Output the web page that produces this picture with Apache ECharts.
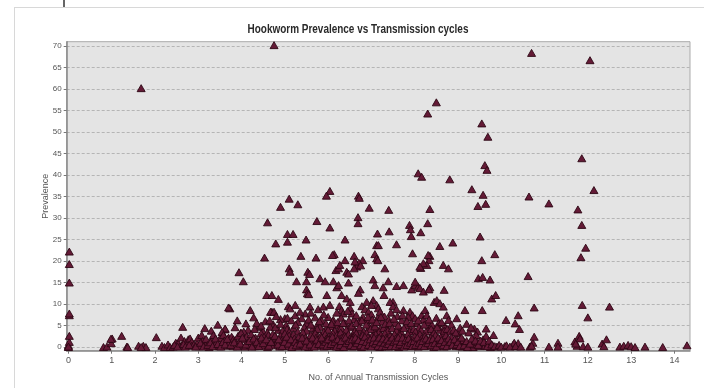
<!DOCTYPE html>
<html>
<head>
<meta charset="utf-8">
<script src="https://cdn.jsdelivr.net/npm/echarts@6/dist/echarts.min.js"></script>
<style>
html,body{margin:0;padding:0;background:#fff;}
#c{width:704px;height:388px;}
</style>
</head>
<body>
<div id="c"></div>
<script>
// Tick labels
const xTicks = [0,1,2,3,4,5,6,7,8,9,10,11,12,13,14];
const yTicks = [0,5,10,15,20,25,30,35,40,45,50,55,60,65,70];

// Data: [annual transmission cycles, prevalence]
const outliers = [
 [1.68,60.2],[4.75,70.2],[10.7,68.4],[12.05,66.7],[8.5,56.9],[8.3,54.3],[9.55,52],[9.69,48.9],
 [11.86,43.9],[9.62,42.3],[9.67,41.2],[8.08,40.4],[8.16,39.6],[8.81,39],[9.32,36.7],[9.58,35.4],
 [12.14,36.5],[10.64,35],[11.1,33.4],[9.46,32.8],[9.64,33.3],[11.77,32],[6.04,36.3],[5.96,35.2],
 [6.7,35.2],[6.72,34.7],[5.1,34.5],[4.9,32.6],[5.3,33.2],[6.95,32.4],[7.4,31.9],[8.35,32.1],[6.69,30.2]
];
const upperBand = [
 [4.6,29],[5.74,29.3],[6.04,27.8],[6.69,28.8],[8.3,28.8],[7.88,28.4],[7.9,27.4],[7.92,25.8],
 [7.14,26.4],[7.41,26.9],[8.14,26.7],[5.06,26.3],[5.19,26.3],[5.49,25],[6.39,25],[11.86,28.4],
 [9.51,25.7],[4.79,24.1],[5.06,24.5],[7.12,23.7],[7.16,23.7],[7.58,23.9],[8.58,23.5],[8.88,24.3],
 [11.95,23.1],[0.02,22.2],[4.53,20.8],[5.37,21.2],[5.72,20.8],[6.14,21.6],[6.39,20.2],[6.6,21.2],
 [6.8,20.2],[7.08,21.6],[7.12,20.6],[7.15,20.2],[7.95,21.8],[8.35,21.2],[8.33,20.2],[8.31,21.4],
 [11.84,20.9],[9.85,21.6],[9.55,20.2],[6.1,21.4]
];
const midBand = [
 [0.02,19.3],[0.02,15],[6.71,19.6],[6.66,18.7],[6.6,18.3],[7.31,18.3],[8.28,19.1],[8.14,18.4],
 [8.66,19.1],[8.78,18.3],[8.2,19.5],[8.12,18.7],[5.1,18.3],[5.12,17.5],[5.53,17.5],[5.57,17],
 [6.18,17.9],[6.24,18.3],[6.27,19.1],[6.43,17.5],[6.47,17.1],[3.94,17.4],[4.04,15.3],[5.27,15.3],
 [5.5,15.3],[5.81,16],[5.93,15.3],[6.12,15.3],[6.2,13.9],[6.24,14.4],[6.47,15],[6.74,13.4],
 [6.7,12.6],[7.04,15.7],[7.08,14.4],[7.27,13.9],[7.29,12.1],[7.39,15.3],[7.58,14.2],[7.74,14.4],
 [7.93,13.4],[8.01,14.4],[8.08,14],[8.01,15.2],[8.12,13.7],[8.2,12.9],[8.35,13.9],[8.33,13.4],
 [8.68,13.3],[5.5,13.4],[5.52,12.5],[5.55,12.3],[4.58,12.1],[4.7,12.1],[4.85,11.2],[5.97,12.1],
 [6.31,12.1],[6.43,11.3],[6.51,10.5],[9.47,16],[9.57,16.3],[9.74,15.7],[10.62,16.5],[9.78,11.3],
 [9.87,12.1],[6.62,19.9],[6.75,19.0],[6.89,10.5],[7.5,10.5],[8.45,10.5]
];
const lowBand = [
 [0.02,7.4],[0.02,7.8],[3.73,9],[3.7,9.2],[4.2,8.6],[4.28,6.9],[4.7,8.2],[4.67,8.2],[4.75,8.2],
 [5.08,9.5],[5.12,9],[5.24,9.8],[5.58,9.4],[5.47,7.8],[5.77,8.8],[5.89,9.4],[6.04,9.8],[6.26,9.5],
 [6.31,8.6],[6.35,7.8],[6.51,9],[6.55,7.8],[6.78,9.5],[6.85,8.8],[6.93,8.2],[7.04,10.9],[7.12,9.8],
 [7.16,9],[7.43,10.5],[7.5,9.5],[7.58,8.8],[7.74,8.6],[7.89,8.2],[7.95,7.4],[8.01,6.7],[8.16,7.4],
 [8.2,6.4],[8.51,10.9],[8.58,10.2],[8.66,9.4],[8.74,7.4],[8.78,6.3],[8.97,6.7],[9.16,8.6],
 [9.56,8.6],[10.76,9.2],[11.87,9.8],[12.5,9.4],[12.0,6.9],[10.39,7.4],[10.11,6.3],[10.32,5.5],
 [10.42,4.2],[9.38,4.3],[9.65,4.3],[5.03,5.1],[5.0,6.7],[4.73,5.3],[4.66,4.7],[4.4,4.7],[3.98,3.3],
 [5.39,6.7],[5.5,5.5],[5.77,5.5],[5.81,4.7],[6.12,6.3],[6.2,5.1],[8.35,4.7],[8.43,3.6],[8.58,4],
 [8.66,3.2],[9.0,3.2],[5.06,6.8],[5.24,7.4],[2.64,4.7],[3.62,4.1],[4.85,4],[3.62,4.3],[8.24,8.6],
 [8.28,7.4],[7.0,9.8],
 [6.0,7.0],[6.1,6.0],[6.2,8.0],[6.3,6.8],[6.4,5.5],[6.45,8.4],[6.6,6.5],[6.65,7.4],[6.7,5.8],
 [6.8,7.0],[6.9,6.2],[7.0,7.6],[7.05,5.4],[7.15,6.8],[7.2,8.2],[7.25,5.9],[7.3,7.1],[7.35,4.8],
 [7.4,6.4],[7.45,8.0],[7.55,5.6],[7.6,7.2],[7.65,4.5],[7.7,6.2],[7.8,5.0],[7.85,7.0],[7.9,4.2],
 [8.05,5.6],[8.1,4.6],[8.3,5.8],[8.4,5.2],[8.5,6.8],[8.55,5.5],[8.7,4.8],[8.85,5.2],[9.05,4.5],
 [9.2,5.4],[5.55,6.4],[5.6,8.0],[5.65,4.4],[5.7,6.9],[5.85,6.2],[5.9,7.6],[5.95,4.2],[5.3,5.8],
 [5.35,8.2],[5.2,4.4],[5.15,6.2],[4.9,6.5],[4.95,3.8],[4.8,7.2],[4.55,6.0],[4.5,3.6],[4.35,5.6],
 [4.15,4.0],[4.1,5.5],[3.9,6.2],[3.85,4.6],[3.55,3.5],[3.45,5.2],[3.3,3.8],[3.15,4.4],[6.05,4.8],
 [6.25,4.2],[6.5,4.6],[6.75,4.0],[6.95,4.6],[7.1,3.8],[7.2,4.3],[6.35,3.6],[6.6,3.4]
];
const lowExtra = [
 [4.05,3.6],[4.3,4.2],[4.45,5.0],[4.6,3.4],[4.65,6.2],[4.78,4.6],[4.9,5.4],[5.05,4.2],[5.1,3.5],
 [5.25,5.2],[5.3,3.6],[5.45,4.6],[5.5,3.8],[5.6,5.2],[5.7,3.8],[5.75,4.2],[5.8,6.0],[5.9,3.6],
 [5.95,5.5],[6.0,4.0],[6.08,5.4],[6.15,3.8],[6.22,5.8],[6.3,4.4],[6.35,5.6],[6.42,4.0],[6.48,6.2],
 [6.55,5.0],[6.62,3.8],[6.65,5.6],[6.72,4.6],[6.78,6.2],[6.82,3.6],[6.88,5.2],[6.92,7.0],[6.98,4.2],
 [7.02,6.4],[7.08,4.8],[7.12,5.8],[7.18,3.6],[7.22,7.0],[7.28,4.4],[7.32,5.4],[7.38,3.8],[7.42,5.6],
 [7.48,4.4],[7.52,6.6],[7.58,3.8],[7.62,5.0],[7.68,3.6],[7.72,7.4],[7.75,4.4],[7.82,6.0],[7.88,3.6],
 [7.92,5.6],[7.98,4.2],[8.02,3.6],[8.08,6.2],[8.15,4.0],[8.22,5.2],[8.26,3.6],[8.33,6.4],[8.38,4.2],
 [8.45,3.4],[8.52,4.6],[8.62,5.8],[8.68,3.8],[8.75,4.2],[8.82,3.6],[8.9,4.0],[8.95,3.4],[9.1,3.8],
 [9.25,3.4],[9.3,4.6],[9.45,3.6]
];
const baseline = [
 [0,0],[0,0.4],[0.02,1.2],[0.02,2.6],[0,0.1],
 [0.81,0],[0.89,0.1],[0.99,0.9],[1.01,2.0],[0.98,1.9],[1.23,2.6],[1.35,0.1],[1.37,0],[1.62,0.3],
 [1.73,0.3],[1.79,0],[1.68,0],
 [2.03,2.3],[2.16,0.3],[2.22,0],[2.3,0.6],[2.35,0],[2.42,0.1],[2.48,1.0],[2.54,0.9],[2.58,0.2],
 [2.62,0.3],[2.6,2.2],[2.68,1.4],[2.73,0.9],[2.77,1.8],[2.81,2.0],[2.85,1.2],[2.85,0.3],[2.9,0.6],
 [2.97,0.9],[3.0,2.2],[3.08,2.8],[3.02,0.2],[3.1,1.4],[3.15,0.4],[3.2,0.9],[3.25,0],[3.3,1.6],
 [3.35,2.8],[3.38,0.5],[3.42,1.1],[3.48,0.2],[3.5,2.0],[3.55,0.8],[3.58,2.8],[3.6,1.5],[3.65,0.3],
 [3.7,2.2],[3.72,1.0],[3.77,2.4],[3.81,1.8],[3.85,1.6],[3.8,0.2],[3.88,0.7],[3.92,2.6],[3.95,1.2],
 [3.99,3.3],[4.0,0.4],
 [4.05,1.8],[4.08,0.1],[4.12,2.5],[4.15,1.0],[4.2,0.5],[4.22,3.0],[4.25,1.5],[4.3,0.2],[4.32,2.2],
 [4.38,0.8],[4.42,1.7],[4.45,3.2],[4.48,0.3],[4.52,2.4],[4.55,1.2],[4.6,0],[4.62,2.8],[4.65,0.7],
 [4.7,1.8],[4.72,3.0],[4.75,0.4],[4.8,2.2],[4.82,1.1],[4.88,0.1],[4.9,2.6],[4.92,1.5],[4.97,0.6],
 [5.0,3.2],
 [5.02,1.9],[5.05,0.2],[5.1,2.7],[5.12,1.2],[5.18,0.5],[5.2,3.0],[5.22,2.0],[5.28,0.9],[5.3,0.1],
 [5.33,2.5],[5.38,1.5],[5.42,3.4],[5.45,0.4],[5.48,2.2],[5.52,1.0],[5.55,0],[5.6,2.8],[5.62,1.7],
 [5.66,0.6],[5.7,3.2],[5.72,2.2],[5.76,1.2],[5.8,0.3],[5.83,2.6],[5.87,1.5],[5.9,0.1],[5.93,3.0],
 [5.96,2.0],[5.99,0.8],
 [6.02,2.5],[6.05,1.4],[6.08,0.2],[6.11,3.2],[6.14,2.0],[6.17,0.6],[6.2,2.8],[6.23,1.2],[6.26,0],
 [6.29,3.4],[6.32,2.2],[6.35,0.9],[6.38,2.6],[6.41,1.6],[6.44,0.3],[6.47,3.0],[6.5,2.0],[6.53,1.0],
 [6.56,0.1],[6.59,2.6],[6.62,1.4],[6.65,3.2],[6.68,0.5],[6.71,2.2],[6.74,1.1],[6.77,0],[6.8,2.8],
 [6.83,1.8],[6.86,0.7],[6.89,3.3],[6.92,2.3],[6.95,1.2],[6.98,0.3],
 [7.01,2.6],[7.04,1.6],[7.07,0.5],[7.1,3.0],[7.13,2.0],[7.16,0.9],[7.19,0],[7.22,2.8],[7.25,1.6],
 [7.28,0.4],[7.31,3.2],[7.34,2.2],[7.37,1.1],[7.4,0.1],[7.43,2.6],[7.46,1.5],[7.5,0.6],[7.53,3.0],
 [7.56,2.0],[7.6,0.9],[7.63,0],[7.66,2.7],[7.7,1.6],[7.73,0.4],[7.77,2.2],[7.8,1.1],[7.84,3.0],
 [7.88,0.2],[7.92,1.8],[7.96,0.7],
 [8.0,2.5],[8.04,1.4],[8.08,0.1],[8.12,3.0],[8.16,2.0],[8.2,0.8],[8.24,2.6],[8.28,1.5],[8.32,0.3],
 [8.36,2.2],[8.4,1.1],[8.44,0],[8.48,2.8],[8.52,1.7],[8.56,0.5],[8.6,2.3],[8.64,1.2],[8.68,0.1],
 [8.72,2.7],[8.76,1.6],[8.8,0.6],[8.85,2.2],[8.9,1.0],[8.95,0.2],[8.98,1.8],
 [9.02,0.6],[9.06,1.6],[9.12,1.6],[9.1,0.1],[9.18,0.8],[9.25,0.3],[9.3,1.2],[9.35,0],[9.38,0.6],
 [9.42,2.8],[9.45,1.2],[9.5,0.2],[9.55,0.9],[9.58,1.8],[9.62,0.3],[9.65,2.6],[9.7,0.8],[9.75,0],
 [9.8,0.4],[9.82,2.8],[9.9,0.1],[10.08,0.2],
 [10.27,0.5],[10.3,1.0],[10.36,0.2],[10.39,0.9],[10.66,0.1],[10.73,1.0],[10.76,2.4],[10.7,0.3],
 [11.1,0.1],[11.31,1.0],[11.31,0.1],[11.7,1.3],[11.75,0.3],[11.8,2.6],[11.82,2.0],[11.72,0.8],
 [11.89,0.2],[12.0,0.1],[12.33,0.8],[12.37,0.2],[12.43,1.8],[12.74,0.1],[12.83,0.3],[12.93,0.5],
 [13.0,0.2],[13.09,0],[13.32,0.1],[13.73,0],[14.29,0.4]
];
const baselineExtra = [
 [2.45,0.5],[2.52,0.1],[2.66,0.7],[2.7,0.1],[2.79,0.5],[2.94,0.1],[3.05,1.0],[3.12,0.1],[3.18,1.9],
 [3.22,0.5],[3.28,1.1],[3.33,0.2],[3.4,2.0],[3.45,0.7],[3.52,0.1],[3.57,1.2],[3.62,0.6],[3.67,1.9],
 [3.75,0.5],[3.83,1.1],[3.9,0.1],[3.97,0.8],[4.02,2.2],[4.1,0.6],[4.18,1.4],[4.24,0.1],[4.28,2.0],
 [4.35,1.2],[4.4,0.2],[4.46,2.2],[4.5,0.9],[4.57,1.8],[4.63,0.3],[4.68,1.2],[4.77,2.6],[4.84,0.6],
 [4.86,1.8],[4.94,0.2],[4.99,1.2],[5.04,2.4],[5.08,0.8],[5.14,1.8],[5.16,0],[5.24,1.2],[5.26,0.4],
 [5.35,0.8],[5.4,2.2],[5.47,0.1],[5.5,1.5],[5.58,0.6],[5.64,2.2],[5.68,0.1],[5.74,1.7],[5.78,0.7],
 [5.85,2.2],[5.88,0.6],[5.94,1.2],[5.97,0.3],[6.0,1.8],[6.06,0.7],[6.1,2.4],[6.15,1.2],[6.19,0.1],
 [6.22,1.8],[6.28,0.5],[6.3,1.4],[6.36,0],[6.4,2.2],[6.42,0.9],[6.48,1.4],[6.52,0.4],[6.55,1.8],
 [6.6,0.2],[6.63,2.2],[6.66,0.9],[6.7,1.6],[6.75,0.4],[6.79,1.4],[6.82,0.1],[6.85,2.4],[6.88,1.2],
 [6.93,0.5],[6.97,1.8],[7.0,0.1],[7.03,1.1],[7.06,2.2],[7.09,0.8],[7.12,1.4],[7.15,0.2],[7.18,2.2],
 [7.21,1.1],[7.24,0.1],[7.27,2.0],[7.3,1.0],[7.33,0.2],[7.36,1.8],[7.39,0.7],[7.42,1.5],[7.45,0.2],
 [7.48,2.2],[7.52,1.2],[7.55,0.2],[7.58,1.5],[7.62,2.2],[7.65,0.6],[7.68,1.2],[7.72,2.2],[7.75,0.1],
 [7.79,1.6],[7.82,0.5],[7.86,2.0],[7.9,1.0],[7.94,0.2],[7.98,1.4],[8.02,0.5],[8.06,2.2],[8.1,1.0],
 [8.14,0.3],[8.18,1.4],[8.22,0.2],[8.26,2.0],[8.3,0.9],[8.34,1.6],[8.38,0.4],[8.42,1.9],[8.46,0.9],
 [8.5,0.1],[8.54,2.2],[8.58,0.9],[8.62,1.6],[8.66,0.4],[8.7,1.2],[8.74,0.2],[8.78,2.0],[8.82,1.2],
 [8.87,0.5],[8.92,1.8],[8.97,0.6],[9.0,1.2],[9.04,0.2],[9.08,2.2],[9.14,0.4],[9.2,1.4],[9.22,0],
 [9.28,0.8],[9.32,2.0],[9.4,1.5],[9.47,0.5],[9.52,1.5],[9.6,1.2],[9.68,0.2],[9.72,1.5],[9.78,0.6],
 [9.85,0.2],[9.95,0.5],[10.0,0.1],[10.12,0.4],[10.2,0.1],[10.33,0.2],[10.45,0.1]
];

const points = [].concat(outliers, upperBand, midBand, lowBand, lowExtra, baseline, baselineExtra);

const chart = echarts.init(document.getElementById('c'), null, {renderer:'canvas'});
const labelFont = 'Liberation Sans, Arial, sans-serif';
chart.setOption({
  animation: false,
  backgroundColor: '#ffffff',
  graphic: [
    {type:'line', shape:{x1:14, y1:7.5, x2:704, y2:7.5}, style:{stroke:'#d8d8d8', lineWidth:1}},
    {type:'line', shape:{x1:14.5, y1:7, x2:14.5, y2:388}, style:{stroke:'#d8d8d8', lineWidth:1}},
    {type:'line', shape:{x1:64, y1:0, x2:64, y2:7}, style:{stroke:'#333', lineWidth:1.5}},
    {type:'text', x:358, y:30, scaleX:0.83, z:10,
     style:{text:'Hookworm Prevalence vs Transmission cycles', fontFamily:'Liberation Sans, Arial, sans-serif',
            fontWeight:'bold', fontSize:12, fill:'#2a2a2a', textAlign:'center', textVerticalAlign:'middle'}}
  ],
  grid: {
    left: 66.7, right: 14, top: 41.7, bottom: 37.3,
    show: true, backgroundColor: '#e4e4e4', borderColor: '#ababab', borderWidth: 1
  },
  xAxis: {
    type: 'value', min: -0.04, max: 14.36,
    name: 'No. of Annual Transmission Cycles', nameLocation: 'middle', nameGap: 22,
    nameMoveOverlap: false,
    nameTextStyle: {fontFamily: labelFont, fontSize: 9, color: '#555'},
    axisLine: {show: true, onZero: false, lineStyle: {color: '#8a8a8a', width: 1.5}},
    axisTick: {show: true, length: 3, customValues: xTicks, lineStyle: {color: '#777'}},
    axisLabel: {customValues: xTicks, fontFamily: labelFont, fontSize: 9, color: '#555', margin: 5},
    splitLine: {show: false}
  },
  yAxis: {
    type: 'value', min: -0.85, max: 71,
    name: 'Prevalence', nameLocation: 'middle', nameGap: 17, nameRotate: 90,
    nameMoveOverlap: false,
    nameTextStyle: {fontFamily: labelFont, fontSize: 9, color: '#555'},
    axisLine: {show: true, onZero: false, lineStyle: {color: '#8a8a8a', width: 1.5}},
    axisTick: {show: true, length: 3, customValues: yTicks, lineStyle: {color: '#777'}},
    axisLabel: {customValues: yTicks, fontFamily: labelFont, fontSize: 8, color: '#555', margin: 5},
    splitLine: {show: true, lineStyle: {color: '#b5b5b5', type: [3, 2], width: 1}}
  },
  series: [{
    type: 'scatter',
    data: points,
    symbol: 'triangle',
    symbolSize: [8, 7],
    itemStyle: {color: '#641a36', borderColor: '#2c0714', borderWidth: 0.9, opacity: 1}
  }]
});
</script>
</body>
</html>
